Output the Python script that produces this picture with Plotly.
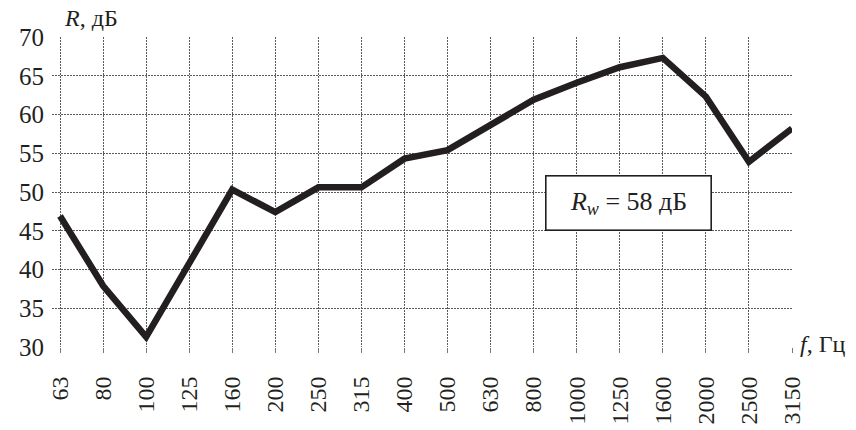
import plotly.graph_objects as go

freqs = ["63", "80", "100", "125", "160", "200", "250", "315", "400", "500",
         "630", "800", "1000", "1250", "1600", "2000", "2500", "3150"]
R_values = [46.9, 37.9, 31.3, 40.8, 50.3, 47.4, 50.6, 50.6, 54.3, 55.4,
            58.7, 61.9, 64.1, 66.1, 67.3, 62.3, 53.9, 58.2]
y_ticks = [30, 35, 40, 45, 50, 55, 60, 65, 70]

FONT = "Liberation Serif"

fig = go.Figure()
fig.add_trace(go.Scatter(
    x=list(range(len(freqs))), y=R_values, mode="lines",
    line=dict(color="#231f20", width=6.5), showlegend=False, hoverinfo="skip"))

fig.update_layout(
    width=856, height=430,
    margin=dict(l=52, r=64, t=37, b=83, autoexpand=False),
    paper_bgcolor="white", plot_bgcolor="white",
    font=dict(family=FONT, size=24, color="#231f20"),
    xaxis=dict(
        range=[-0.186, 17.0], automargin=False,
        tickmode="array", tickvals=list(range(len(freqs))), ticktext=freqs,
        tickangle=-90, showgrid=True, gridcolor="#5a5a5a", griddash="2px,1px",
        gridwidth=1, ticks="outside", ticklen=5, tickcolor="#777",
        ticklabelstandoff=14, zeroline=False, showline=False,
        tickfont=dict(family=FONT, size=24, color="#231f20"),
    ),
    yaxis=dict(
        range=[30, 70], tickmode="array", tickvals=y_ticks, automargin=False,
        showgrid=True, gridcolor="#5a5a5a", griddash="2px,1px", gridwidth=1,
        ticks="", zeroline=False, showline=False, ticklabelstandoff=7,
        tickfont=dict(family=FONT, size=25, color="#231f20"),
    ),
)

fig.add_annotation(
    xref="paper", yref="paper", x=0.0135, y=1.06, xanchor="left", yanchor="middle",
    text="<i>R</i>, дБ", showarrow=False, font=dict(family=FONT, size=24, color="#231f20"))
fig.add_annotation(
    xref="paper", yref="paper", x=1.008, y=0.01, xanchor="left", yanchor="middle",
    text="<i>f</i>, Гц", showarrow=False, font=dict(family=FONT, size=24, color="#231f20"))
fig.add_annotation(
    x=13.2, y=48.6, xref="x", yref="y",
    text="<i>R</i><sub><i>w</i></sub> = 58 дБ", showarrow=False,
    width=162, height=51, bgcolor="white", bordercolor="#231f20", borderwidth=1.6,
    font=dict(family=FONT, size=26, color="#231f20"))

fig.write_html("out.html", config={"displayModeBar": False},
               post_script="document.body.style.margin='0';")
